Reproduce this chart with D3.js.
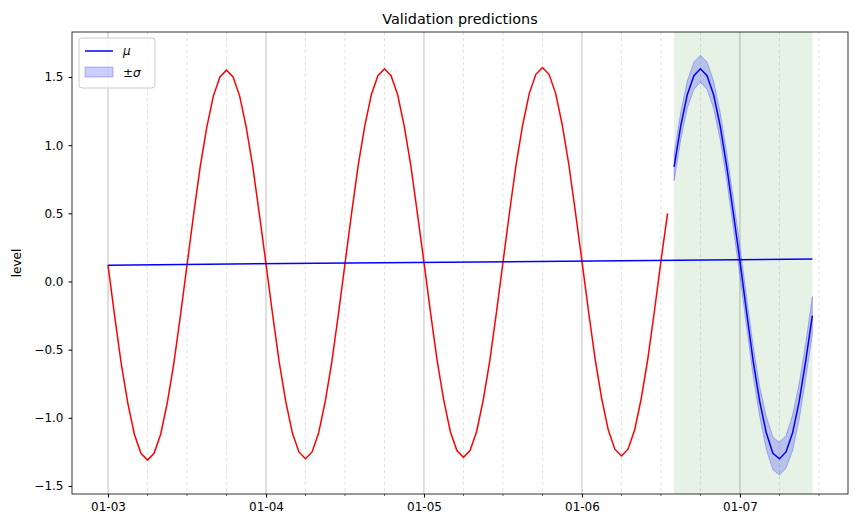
<!DOCTYPE html>
<html><head><meta charset="utf-8">
<script src="https://cdn.jsdelivr.net/npm/d3@7"></script>
<style>body{margin:0;background:#fff}text{font-family:"DejaVu Sans",sans-serif}</style>
</head><body><svg id="c" width="857" height="528"></svg>
<script>
const startDate = "2024-01-03T00:00:00Z";
const histValues = [
0.12,-0.25,-0.60,-0.89,-1.12,-1.26,-1.31,-1.26,-1.12,-0.89,-0.60,-0.25,0.12,0.49,0.84,1.13,1.36,1.50,1.55,1.50,1.36,1.13,0.84,0.49,
0.13,-0.24,-0.59,-0.88,-1.11,-1.25,-1.30,-1.25,-1.11,-0.88,-0.59,-0.24,0.13,0.50,0.85,1.14,1.37,1.51,1.56,1.51,1.37,1.14,0.85,0.50,
0.14,-0.23,-0.58,-0.87,-1.10,-1.24,-1.29,-1.24,-1.10,-0.87,-0.58,-0.23,0.14,0.51,0.86,1.15,1.38,1.52,1.57,1.52,1.38,1.15,0.86,0.51,
0.15,-0.22,-0.57,-0.86,-1.09,-1.23,-1.28,-1.23,-1.09,-0.86,-0.57,-0.22,0.15,0.50];
const predStartHour = 86;
const predMu = [0.84,1.14,1.37,1.51,1.56,1.51,1.37,1.14,0.84,0.50,0.15,-0.22,-0.58,-0.88,-1.11,-1.26,-1.30,-1.25,-1.11,-0.88,-0.58,-0.25];
const predSigma = [0.10,0.10,0.10,0.10,0.10,0.10,0.10,0.10,0.10,0.11,0.11,0.11,0.11,0.11,0.12,0.12,0.12,0.12,0.13,0.13,0.13,0.14];
const trendHours = [0, 107];
const trendValues = [0.12, 0.165];
const yTicks = [-1.5,-1.0,-0.5,0.0,0.5,1.0,1.5];

const t0 = new Date(startDate).getTime();
const H = 3600e3;
const dt = h => new Date(t0 + h*H);
const svg = d3.select("#c");
const L=72,R=848,T=32,B=494;
const x = d3.scaleUtc().domain([dt(-0.228*24), dt(4.684*24)]).range([L,R]);
const y = d3.scaleLinear().domain([-1.5 - (494-486)/136.3, 1.5 + (77-32)/136.3]).range([B,T]);

// grids
const minor = d3.utcHour.every(6).range(x.domain()[0], x.domain()[1]).filter(d=>d.getUTCHours()!==0);
const major = d3.utcDay.range(x.domain()[0], x.domain()[1]);
svg.append("g").selectAll("line").data(minor).join("line")
 .attr("x1",d=>x(d)).attr("x2",d=>x(d)).attr("y1",T).attr("y2",B)
 .attr("stroke","#ccc").attr("stroke-width",0.6).attr("stroke-dasharray","3,3");
svg.append("g").selectAll("line").data(major).join("line")
 .attr("x1",d=>x(d)).attr("x2",d=>x(d)).attr("y1",T).attr("y2",B)
 .attr("stroke","#b0b0b0").attr("stroke-width",0.8);

// green region
const ph0 = predStartHour, ph1 = predStartHour + predMu.length - 1;
svg.append("rect").attr("x",x(dt(ph0))).attr("y",T).attr("width",x(dt(ph1))-x(dt(ph0))).attr("height",B-T)
 .attr("fill","green").attr("opacity",0.1);

// band
const pred = predMu.map((m,i)=>({d:dt(ph0+i),m,s:predSigma[i]}));
svg.append("path").datum(pred).attr("d",d3.area().x(d=>x(d.d)).y0(d=>y(d.m-d.s)).y1(d=>y(d.m+d.s)))
 .attr("fill","blue").attr("fill-opacity",0.2).attr("stroke","blue").attr("stroke-opacity",0.25);

const line = d3.line().x(d=>x(d[0])).y(d=>y(d[1]));
svg.append("path").datum(histValues.map((v,i)=>[dt(i),v])).attr("d",line).attr("fill","none").attr("stroke","red").attr("stroke-width",1.5);
svg.append("path").datum(trendHours.map((h,i)=>[dt(h),trendValues[i]])).attr("d",line).attr("fill","none").attr("stroke","blue").attr("stroke-width",1.5);
svg.append("path").datum(pred.map(p=>[p.d,p.m])).attr("d",line).attr("fill","none").attr("stroke","blue").attr("stroke-width",1.5);

// axes
const xa = svg.append("g").attr("transform",`translate(0,${B})`)
 .call(d3.axisBottom(x).tickValues(major).tickFormat(d3.utcFormat("%m-%d")).tickSizeOuter(0).tickSize(3.5).tickPadding(5));
svg.append("g").attr("transform",`translate(0,${B})`).selectAll("line").data(minor).join("line")
 .attr("x1",d=>x(d)).attr("x2",d=>x(d)).attr("y1",0).attr("y2",2).attr("stroke","#000").attr("stroke-width",0.6);
const ya = svg.append("g").attr("transform",`translate(${L},0)`)
 .call(d3.axisLeft(y).tickValues(yTicks).tickFormat(d3.format(".1f")).tickSizeOuter(0).tickSize(3.5).tickPadding(5));
[xa,ya].forEach(g=>{g.select(".domain").remove();g.selectAll("text").attr("font-size",12).attr("fill","#000").style("font-family","DejaVu Sans");});
ya.selectAll("text").text(d=>d3.format(".1f")(d).replace("-","−"));
svg.append("rect").attr("x",L).attr("y",T).attr("width",R-L).attr("height",B-T).attr("fill","none").attr("stroke","#000").attr("stroke-width",0.8);

svg.append("text").attr("x",(L+R)/2).attr("y",T-8).attr("text-anchor","middle").attr("font-size",14.4).text("Validation predictions");
svg.append("text").attr("transform",`translate(21,${(T+B)/2}) rotate(-90)`).attr("text-anchor","middle").attr("font-size",12).text("level");

// legend
const lg = svg.append("g").attr("transform","translate(79,38)");
lg.append("rect").attr("width",76).attr("height",50).attr("rx",3).attr("fill","#fff").attr("fill-opacity",0.8).attr("stroke","#ccc");
lg.append("line").attr("x1",6).attr("x2",34).attr("y1",13).attr("y2",13).attr("stroke","blue").attr("stroke-width",1.5);
lg.append("text").attr("x",44).attr("y",17).attr("font-size",12).attr("font-style","italic").text("μ");
lg.append("rect").attr("x",6).attr("y",29).attr("width",28).attr("height",10).attr("fill","blue").attr("fill-opacity",0.2).attr("stroke","blue").attr("stroke-opacity",0.25);
lg.append("text").attr("x",44).attr("y",39).attr("font-size",12).html('±<tspan font-style="italic">σ</tspan>');
</script></body></html>
